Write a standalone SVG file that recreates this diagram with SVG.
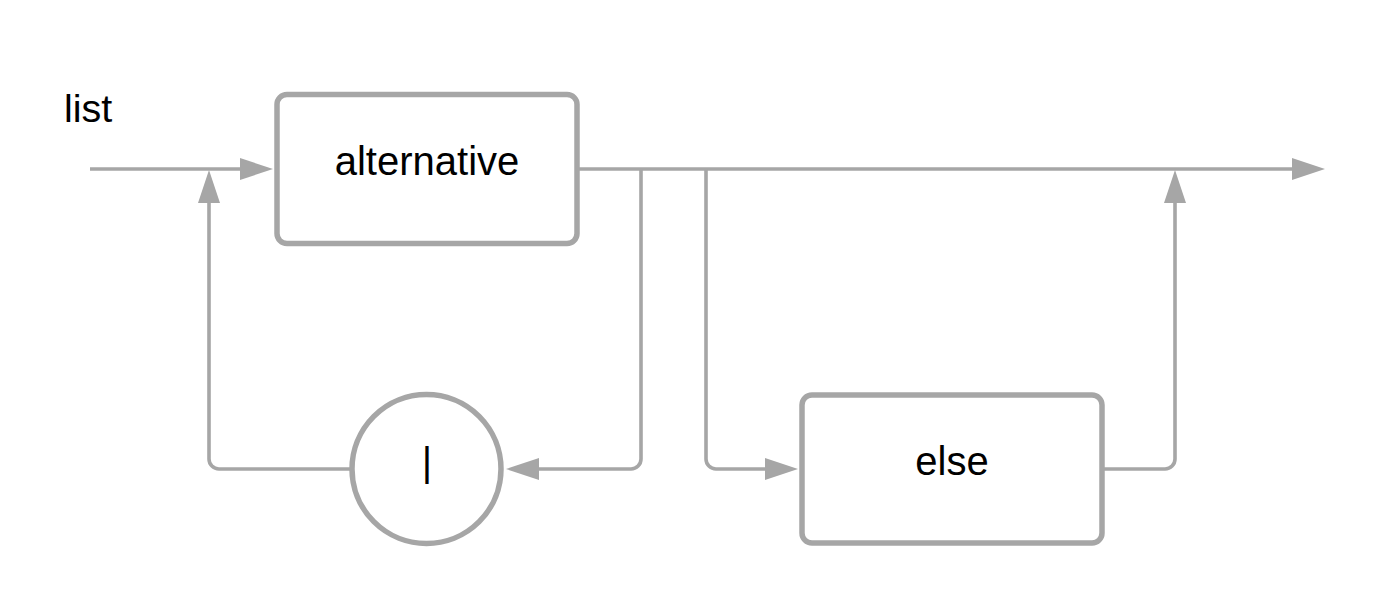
<svg xmlns="http://www.w3.org/2000/svg" width="1393" height="611" viewBox="0 0 1393 611">
  <style>
    .node { fill: #ffffff; stroke: #a6a6a6; stroke-width: 5.5; }
    .label { font-family: "Liberation Sans", Arial, sans-serif; font-size: 40px; fill: #000000; text-anchor: middle; }
    .conn { fill: none; stroke: #a6a6a6; stroke-width: 3.6; }
    .title { font-family: "Liberation Sans", Arial, sans-serif; font-size: 39.5px; fill: #000000; }
  </style>
  <defs>
    <marker id="arrow" markerUnits="userSpaceOnUse" markerWidth="34" markerHeight="22" viewBox="0 0 33 22" refX="10" refY="11" orient="auto">
      <path d="M0,0 L33,11 L0,22 Z" fill="#a6a6a6"/>
    </marker>
  </defs>
  <rect width="1393" height="611" fill="#ffffff"/>
  <text class="title" x="64" y="122">list</text>
  <g id="connectors">
    <path class="conn" d="M90,169 H250" marker-end="url(#arrow)"/>
    <path class="conn" d="M577,169 H1302" marker-end="url(#arrow)"/>
    <path class="conn" d="M641,169 V459 A10,10 0 0 1 631,469 H529" marker-end="url(#arrow)"/>
    <path class="conn" d="M352,469 H219 A10,10 0 0 1 209,459 V193" marker-end="url(#arrow)"/>
    <path class="conn" d="M706,169 V459 A10,10 0 0 0 716,469 H775" marker-end="url(#arrow)"/>
    <path class="conn" d="M1102,469 H1165 A10,10 0 0 0 1175,459 V193" marker-end="url(#arrow)"/>
  </g>
  <g id="node-alternative">
    <rect class="node" x="277" y="94.5" width="300" height="149" rx="10"/>
    <text class="label" x="427" y="175">alternative</text>
  </g>
  <g id="node-pipe">
    <circle class="node" cx="426.5" cy="469" r="74.5"/>
    <text class="label" x="427" y="476">|</text>
  </g>
  <g id="node-else">
    <rect class="node" x="802" y="395" width="300" height="148" rx="10"/>
    <text class="label" x="952" y="475">else</text>
  </g>
</svg>
